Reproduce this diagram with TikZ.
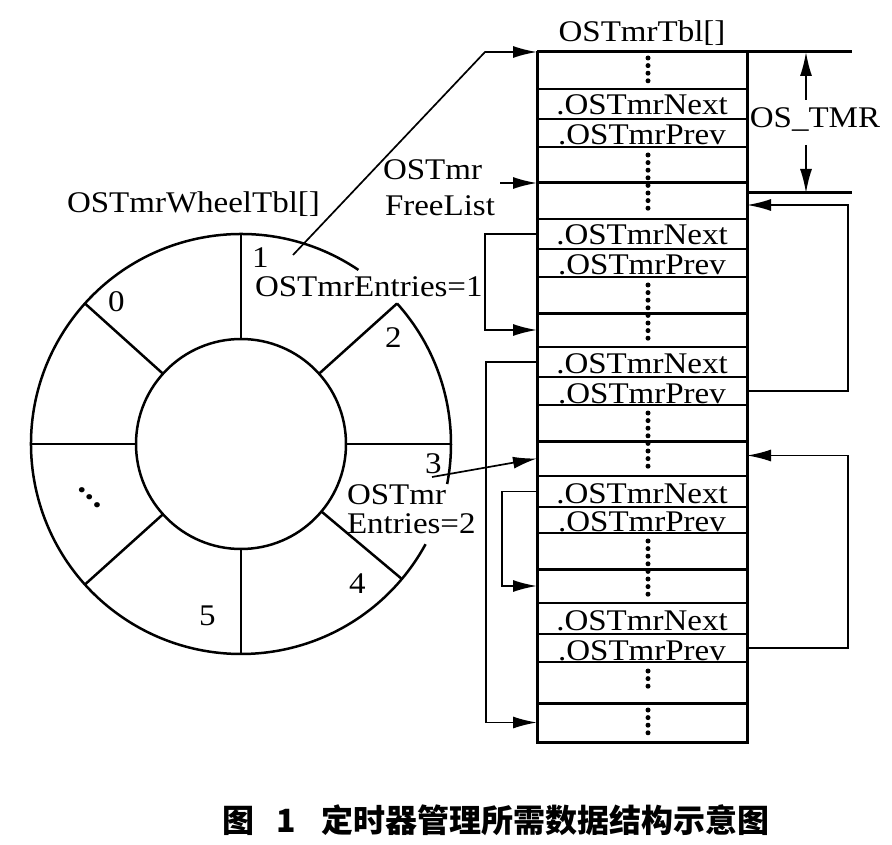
\documentclass[tikz,border=0pt]{standalone}
\usepackage{fontspec}
\setmainfont{Liberation Serif}[FakeStretch=1.1]
\newfontfamily\cjk{Noto Sans CJK SC}
\usetikzlibrary{arrows.meta,calc}
\begin{document}
\begin{tikzpicture}[x=1pt,y=-1pt,
  every node/.style={font=\fontsize{30}{36}\selectfont},
  lbl/.style={inner sep=0pt, outer sep=0pt, anchor=base west},
  wheel/.style={line width=2.5pt},
  cell/.style={draw, line width=1.5pt, minimum width=210pt, inner sep=0pt, outer sep=0pt, anchor=north west},
  nxcell/.style={cell, text height=26pt, text depth=4pt},
  pvcell/.style={cell, text height=26pt, text depth=2pt},
  frame/.style={line width=3pt},
  dotcol/.style={line width=5pt, line cap=round, dash pattern=on 0pt off 7.6pt},
  arr/.style={line width=1.7pt, -{Latex[length=24pt,width=12pt]}}
]
\useasboundingbox (0,0) rectangle (892,845);

% ---------------- wheel ----------------
\coordinate (C) at (241,444);
\draw[wheel] (C) circle[radius=105];
\draw[wheel] ($(C)+(-56:210)$) arc[start angle=-56, end angle=-331.5, radius=210];
\draw[wheel] ($(C)+(11:210)$) arc[start angle=11, end angle=-42, radius=210];
\foreach \a in {-90,90,0,180,-42,-138,138,40}
  \draw[wheel] ($(C)+(\a:105)$) -- ($(C)+(\a:210)$);

\node[lbl] (wtbl) at (67,213) {OSTmrWheelTbl[]};
\node[lbl] (s0) at (108,312) {0};
\node[lbl] (s1) at (252,268) {1};
\node[lbl] (e1) at (255,297) {OSTmrEntries=1};
\node[lbl] (s2) at (385,347) {2};
\node[lbl] (s3) at (425,473) {3};
\node[lbl] (e2a) at (347,504) {OSTmr};
\node[lbl] (e2b) at (347,533) {Entries=2};
\node[lbl] (s4) at (349,593) {4};
\node[lbl] (s5) at (199,625) {5};
\node[lbl, font=\fontsize{22}{24}\selectfont] (dd) at (77.5,497)
  {•\kern-0.8pt\raisebox{-7.7pt}{•}\kern-0.8pt\raisebox{-15.4pt}{•}};

\coordinate (p1) at (293,255);
\coordinate (p3) at (432,477);

% ---------------- table ----------------
\node[lbl, anchor=base] (tbl) at (642,42) {OSTmrTbl[]};

\node[cell, minimum height=37pt] (d1a) at (537,52) {};
\node[nxcell] (nx1) at (537,89) {.OSTmrNext};
\node[pvcell] (pv1) at (537,119) {.OSTmrPrev};
\node[cell, minimum height=36pt] (d1b) at (537,147) {};
\node[cell, minimum height=36pt] (d2a) at (537,183) {};
\node[nxcell] (nx2) at (537,219) {.OSTmrNext};
\node[pvcell] (pv2) at (537,249) {.OSTmrPrev};
\node[cell, minimum height=36pt] (d2b) at (537,277) {};
\node[cell, minimum height=34pt] (d3a) at (537,313) {};
\node[nxcell] (nx3) at (537,347) {.OSTmrNext};
\node[pvcell] (pv3) at (537,377) {.OSTmrPrev};
\node[cell, minimum height=36pt] (d3b) at (537,405) {};
\node[cell, minimum height=35pt] (d4a) at (537,441) {};
\node[nxcell, text height=27pt] (nx4) at (537,476) {.OSTmrNext};
\node[pvcell, text height=24pt] (pv4) at (537,507) {.OSTmrPrev};
\node[cell, minimum height=36pt] (d4b) at (537,533) {};
\node[cell, minimum height=34pt] (d5a) at (537,569) {};
\node[nxcell, text height=27pt] (nx5) at (537,603) {.OSTmrNext};
\node[pvcell] (pv5) at (537,634) {.OSTmrPrev};
\node[cell, minimum height=41pt] (d5b) at (537,662) {};
\node[cell, minimum height=39pt] (d6) at (537,703) {};

% dotted columns
\draw[dotcol] ([xshift=6pt,yshift=-6pt]d1a.north) -- ([xshift=6pt,yshift=4pt]d1a.south);
\draw[dotcol] ([xshift=6pt,yshift=-8pt]d1b.north) -- ([xshift=6pt,yshift=4pt]d2a.south);
\draw[dotcol] ([xshift=6pt,yshift=-8pt]d2b.north) -- ([xshift=6pt,yshift=4pt]d3a.south);
\draw[dotcol] ([xshift=6pt,yshift=-8pt]d3b.north) -- ([xshift=6pt,yshift=4pt]d4a.south);
\draw[dotcol] ([xshift=6pt,yshift=-8pt]d4b.north) -- ([xshift=6pt,yshift=4pt]d5a.south);
\draw[dotcol] ([xshift=6pt,yshift=-9pt]d5b.north) -- ([xshift=6pt,yshift=10pt]d5b.south);
\draw[dotcol] ([xshift=6pt,yshift=-7pt]d6.north) -- ([xshift=6pt,yshift=4pt]d6.south);

% frame and block lines
\draw[frame] (d1a.north west) -- ([xshift=105pt]d1a.north east);
\draw[frame] (d1a.north west) -- (d6.south west) -- (d6.south east) -- (d1a.north east);
\foreach \n in {d2a,d3a,d4a,d5a,d6}
  \draw[frame] (\n.north west) -- (\n.north east);
\coordinate (tmrB) at ([yshift=-10pt]d2a.north east);
\draw[frame] (tmrB) -- ++(105,0);

% OS_TMR dimension
\node[lbl, anchor=base] (ostmr) at (815,128) {OS\_TMR};
\coordinate (tT) at ([xshift=59pt]d1a.north east);
\coordinate (tB) at (tmrB -| tT);
\draw[arr] ([yshift=-48pt]tT) -- (tT);
\draw[arr] ([yshift=48pt]tB) -- (tB);

% FreeList
\node[lbl] (fl1) at (383,180) {OSTmr};
\node[lbl] (fl2) at (385,216) {FreeList};
\draw[arr] ([xshift=-37pt]d2a.north west) -- (d2a.north west);

% wheel to table
\draw[arr] (p1) -- ([xshift=-52pt]d1a.north west) -- (d1a.north west);
\draw[arr] (p3) -- (d4a.west);

% links
\draw[arr] (nx2.west) -- ++(-52,0) |- (d3a.west);
\draw[arr] (nx3.west) -- ++(-51,0) |- (d6.west);
\draw[arr] (nx4.west) -- ++(-35,0) |- (d5a.west);
\draw[arr] (pv3.east) -- ++(101,0) |- ([yshift=-4pt]d2a.east);
\draw[arr] (pv5.east) -- ++(101,0) |- ([yshift=3pt]d4a.east);

% caption
\node[inner sep=0pt, anchor=west, font=\cjk\bfseries\fontsize{32}{38}\selectfont] (cap) at (222,820)
  {图\hspace{22pt}1\hspace{26pt}定时器管理所需数据结构示意图};
\end{tikzpicture}
\end{document}
